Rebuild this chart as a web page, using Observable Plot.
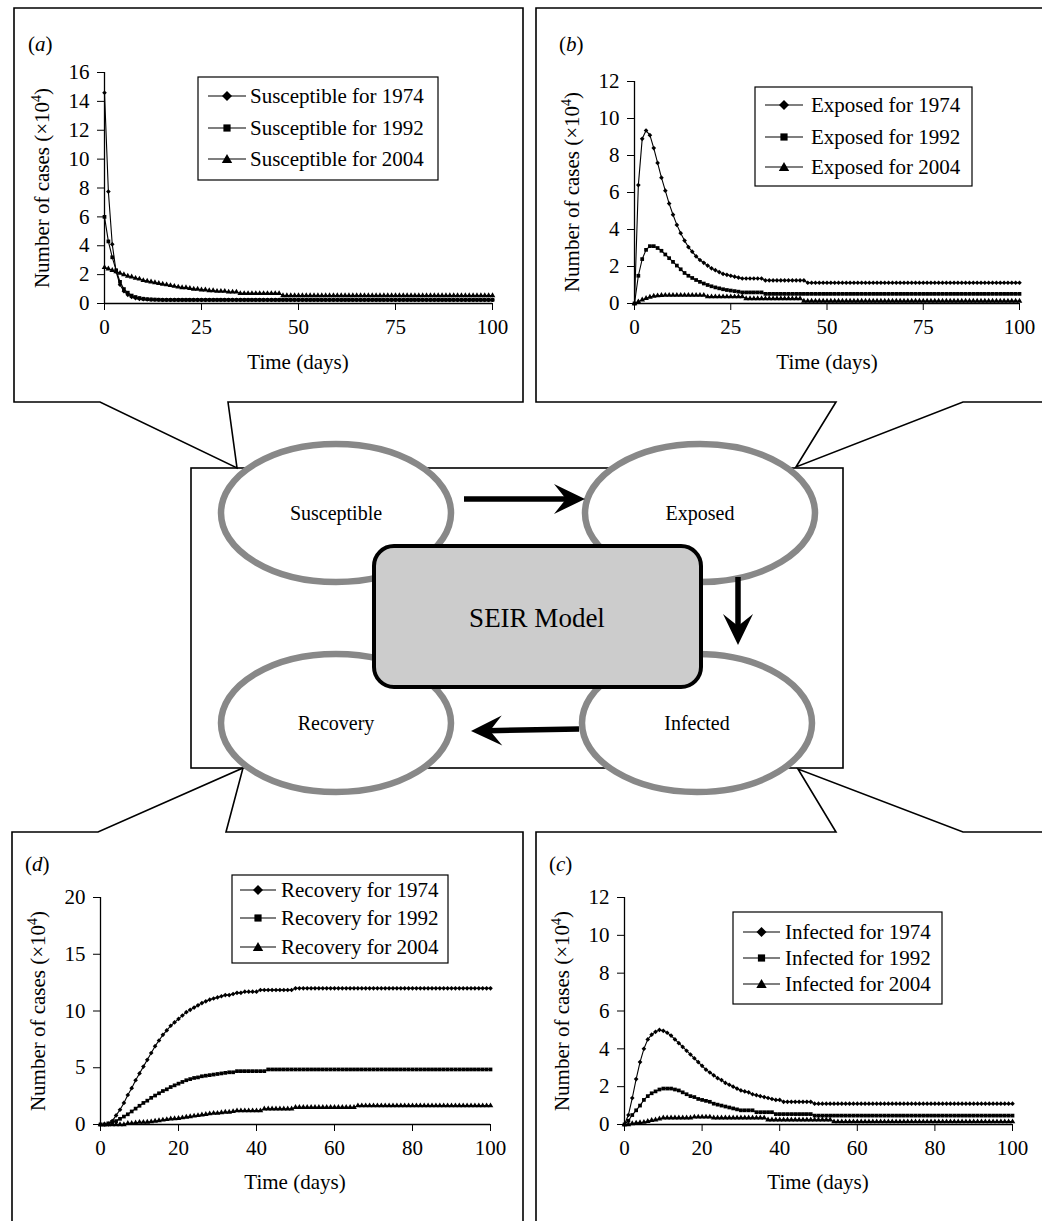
<!DOCTYPE html>
<html><head><meta charset="utf-8">
<script src="https://cdn.jsdelivr.net/npm/d3@7"></script>
<script src="https://cdn.jsdelivr.net/npm/@observablehq/plot@0.6"></script>
<style>
body{margin:0;background:#fff;}
#root{position:relative;width:1042px;height:1221px;overflow:hidden;background:#fff;font-family:"Liberation Serif","Times New Roman",serif;}
#root svg{position:absolute;overflow:visible;}
</style></head><body><div id="root"></div>
<script>
// ---------- data ----------
const days = d3.range(0, 101);
const years = ["1974", "1992", "2004"];
const xTicksA = [0, 25, 50, 75, 100];
const xTicksC = [0, 20, 40, 60, 80, 100];
const yTicksA = [0, 2, 4, 6, 8, 10, 12, 14, 16];
const yTicksB = [0, 2, 4, 6, 8, 10, 12];
const yTicksD = [0, 5, 10, 15, 20];
const yTicksC = [0, 2, 4, 6, 8, 10, 12];

const susceptible1974 = [14.6,7.75,4.1,2.2,1.3,0.85,0.6,0.45,0.37,0.32,
 0.3,0.28,0.27,0.26,0.26,0.25,0.25,0.25,0.25,0.25,
 0.25,0.25,0.25,0.25,0.25,0.25,0.25,0.25,0.25,0.25,
 0.25,0.25,0.25,0.25,0.25,0.25,0.25,0.25,0.25,0.25,
 0.25,0.25,0.25,0.25,0.25,0.25,0.25,0.25,0.25,0.25,
 0.25,0.25,0.25,0.25,0.25,0.25,0.25,0.25,0.25,0.25,
 0.25,0.25,0.25,0.25,0.25,0.25,0.25,0.25,0.25,0.25,
 0.25,0.25,0.25,0.25,0.25,0.25,0.25,0.25,0.25,0.25,
 0.25,0.25,0.25,0.25,0.25,0.25,0.25,0.25,0.25,0.25,
 0.25,0.25,0.25,0.25,0.25,0.25,0.25,0.25,0.25,0.25,0.25];
const susceptible1992 = [6.0,4.3,3.2,2.3,1.5,1.0,0.75,0.55,0.45,0.38,
 0.33,0.3,0.28,0.27,0.26,0.25,0.25,0.25,0.25,0.25,
 0.25,0.25,0.25,0.25,0.25,0.25,0.25,0.25,0.25,0.25,
 0.25,0.25,0.25,0.25,0.25,0.25,0.25,0.25,0.25,0.25,
 0.25,0.25,0.25,0.25,0.25,0.25,0.25,0.25,0.25,0.25,
 0.25,0.25,0.25,0.25,0.25,0.25,0.25,0.25,0.25,0.25,
 0.25,0.25,0.25,0.25,0.25,0.25,0.25,0.25,0.25,0.25,
 0.25,0.25,0.25,0.25,0.25,0.25,0.25,0.25,0.25,0.25,
 0.25,0.25,0.25,0.25,0.25,0.25,0.25,0.25,0.25,0.25,
 0.25,0.25,0.25,0.25,0.25,0.25,0.25,0.25,0.25,0.25,0.25];
const susceptible2004 = [2.5,2.4,2.3,2.2,2.1,2.0,1.9,1.85,1.75,1.7,
 1.6,1.55,1.5,1.45,1.4,1.35,1.3,1.25,1.2,1.15,
 1.1,1.1,1.05,1.0,1.0,0.95,0.95,0.9,0.9,0.85,
 0.85,0.85,0.8,0.8,0.8,0.7,0.7,0.7,0.7,0.7,
 0.7,0.7,0.7,0.7,0.7,0.7,0.55,0.55,0.55,0.55,
 0.55,0.55,0.55,0.55,0.55,0.55,0.55,0.55,0.55,0.55,
 0.55,0.55,0.55,0.55,0.55,0.55,0.55,0.55,0.55,0.55,
 0.55,0.55,0.55,0.55,0.55,0.55,0.55,0.55,0.55,0.55,
 0.55,0.55,0.55,0.55,0.55,0.55,0.55,0.55,0.55,0.55,
 0.55,0.55,0.55,0.55,0.55,0.55,0.55,0.55,0.55,0.55,0.55];

const exposed1974 = [0,6.4,8.9,9.35,9.1,8.4,7.6,6.8,6.1,5.4,
 4.8,4.25,3.8,3.4,3.05,2.8,2.55,2.35,2.2,2.05,
 1.9,1.8,1.7,1.6,1.55,1.5,1.45,1.4,1.35,1.35,
 1.35,1.35,1.35,1.35,1.25,1.25,1.25,1.25,1.25,1.25,
 1.25,1.25,1.25,1.25,1.25,1.12,1.12,1.12,1.12,1.12,
 1.12,1.12,1.12,1.12,1.12,1.12,1.12,1.12,1.12,1.12,
 1.12,1.12,1.12,1.12,1.12,1.12,1.12,1.12,1.12,1.12,
 1.12,1.12,1.12,1.12,1.12,1.12,1.12,1.12,1.12,1.12,
 1.12,1.12,1.12,1.12,1.12,1.12,1.12,1.12,1.12,1.12,
 1.12,1.12,1.12,1.12,1.12,1.12,1.12,1.12,1.12,1.12,1.12];
const exposed1992 = [0,1.5,2.4,2.9,3.1,3.1,3.0,2.85,2.65,2.45,
 2.25,2.05,1.85,1.65,1.5,1.38,1.27,1.17,1.08,1.0,
 0.93,0.87,0.82,0.77,0.73,0.7,0.67,0.64,0.6,0.6,
 0.6,0.6,0.6,0.6,0.52,0.52,0.52,0.52,0.52,0.52,
 0.52,0.52,0.52,0.52,0.52,0.52,0.52,0.52,0.52,0.52,
 0.52,0.52,0.52,0.52,0.52,0.52,0.52,0.52,0.52,0.52,
 0.52,0.52,0.52,0.52,0.52,0.52,0.52,0.52,0.52,0.52,
 0.52,0.52,0.52,0.52,0.52,0.52,0.52,0.52,0.52,0.52,
 0.52,0.52,0.52,0.52,0.52,0.52,0.52,0.52,0.52,0.52,
 0.52,0.52,0.52,0.52,0.52,0.52,0.52,0.52,0.52,0.52,0.52];
const exposed2004 = [0,0.1,0.2,0.28,0.35,0.4,0.42,0.44,0.45,0.45,
 0.45,0.45,0.45,0.45,0.45,0.45,0.45,0.45,0.45,0.37,
 0.37,0.37,0.37,0.37,0.37,0.37,0.37,0.37,0.37,0.27,
 0.27,0.27,0.27,0.27,0.27,0.27,0.27,0.27,0.27,0.27,
 0.27,0.27,0.27,0.27,0.13,0.13,0.13,0.13,0.13,0.13,
 0.13,0.13,0.13,0.13,0.13,0.13,0.13,0.13,0.13,0.13,
 0.13,0.13,0.13,0.13,0.13,0.13,0.13,0.13,0.13,0.13,
 0.13,0.13,0.13,0.13,0.13,0.13,0.13,0.13,0.13,0.13,
 0.13,0.13,0.13,0.13,0.13,0.13,0.13,0.13,0.13,0.13,
 0.13,0.13,0.13,0.13,0.13,0.13,0.13,0.13,0.13,0.13,0.13];

const recovery1974 = [0,0,0,0.3,0.8,1.3,1.9,2.6,3.2,3.9,
 4.5,5.1,5.7,6.3,6.9,7.4,7.9,8.3,8.7,9.0,
 9.3,9.6,9.9,10.1,10.3,10.5,10.7,10.85,11.0,11.1,
 11.2,11.3,11.4,11.4,11.5,11.6,11.6,11.7,11.7,11.7,
 11.7,11.85,11.85,11.85,11.85,11.85,11.85,11.85,11.85,11.85,
 12,12,12,12,12,12,12,12,12,12,
 12,12,12,12,12,12,12,12,12,12,
 12,12,12,12,12,12,12,12,12,12,
 12,12,12,12,12,12,12,12,12,12,
 12,12,12,12,12,12,12,12,12,12,12];
const recovery1992 = [0,0,0.1,0.2,0.3,0.5,0.7,0.9,1.15,1.4,
 1.65,1.9,2.1,2.35,2.55,2.75,2.95,3.1,3.3,3.45,
 3.6,3.75,3.9,4.0,4.1,4.15,4.25,4.3,4.35,4.4,
 4.45,4.5,4.55,4.6,4.6,4.7,4.7,4.7,4.7,4.7,
 4.7,4.7,4.7,4.85,4.85,4.85,4.85,4.85,4.85,4.85,
 4.85,4.85,4.85,4.85,4.85,4.85,4.85,4.85,4.85,4.85,
 4.85,4.85,4.85,4.85,4.85,4.85,4.85,4.85,4.85,4.85,
 4.85,4.85,4.85,4.85,4.85,4.85,4.85,4.85,4.85,4.85,
 4.85,4.85,4.85,4.85,4.85,4.85,4.85,4.85,4.85,4.85,
 4.85,4.85,4.85,4.85,4.85,4.85,4.85,4.85,4.85,4.85,4.85];
const recovery2004 = [0,0,0,0,0,0,0,0.1,0.1,0.15,
 0.2,0.2,0.22,0.25,0.3,0.35,0.4,0.45,0.5,0.52,
 0.55,0.6,0.65,0.7,0.75,0.8,0.85,0.9,0.95,1.0,
 1.0,1.05,1.1,1.1,1.15,1.22,1.22,1.22,1.22,1.22,
 1.22,1.22,1.38,1.38,1.38,1.38,1.38,1.38,1.38,1.38,
 1.52,1.52,1.52,1.52,1.52,1.52,1.52,1.52,1.52,1.52,
 1.52,1.52,1.52,1.52,1.52,1.52,1.66,1.66,1.66,1.66,
 1.66,1.66,1.66,1.66,1.66,1.66,1.66,1.66,1.66,1.66,
 1.66,1.66,1.66,1.66,1.66,1.66,1.66,1.66,1.66,1.66,
 1.66,1.66,1.66,1.66,1.66,1.66,1.66,1.66,1.66,1.66,1.66];

const infected1974 = [0,0.5,1.4,2.4,3.3,4.0,4.5,4.75,4.9,5.0,
 4.95,4.85,4.7,4.5,4.3,4.1,3.9,3.7,3.5,3.3,
 3.1,2.9,2.75,2.6,2.45,2.35,2.2,2.1,2.0,1.9,
 1.8,1.75,1.7,1.6,1.55,1.5,1.45,1.4,1.35,1.3,
 1.3,1.2,1.2,1.2,1.2,1.2,1.2,1.2,1.2,1.1,
 1.1,1.1,1.1,1.1,1.1,1.1,1.1,1.1,1.1,1.1,
 1.1,1.1,1.1,1.1,1.1,1.1,1.1,1.1,1.1,1.1,
 1.1,1.1,1.1,1.1,1.1,1.1,1.1,1.1,1.1,1.1,
 1.1,1.1,1.1,1.1,1.1,1.1,1.1,1.1,1.1,1.1,
 1.1,1.1,1.1,1.1,1.1,1.1,1.1,1.1,1.1,1.1,1.1];
const infected1992 = [0,0.2,0.5,0.75,1.0,1.3,1.5,1.65,1.75,1.85,
 1.9,1.9,1.9,1.85,1.8,1.7,1.6,1.5,1.45,1.35,
 1.3,1.25,1.2,1.1,1.05,1.0,0.95,0.9,0.85,0.8,
 0.75,0.75,0.75,0.75,0.65,0.65,0.65,0.65,0.65,0.55,
 0.55,0.55,0.55,0.55,0.55,0.55,0.55,0.55,0.55,0.47,
 0.47,0.47,0.47,0.47,0.47,0.47,0.47,0.47,0.47,0.47,
 0.47,0.47,0.47,0.47,0.47,0.47,0.47,0.47,0.47,0.47,
 0.47,0.47,0.47,0.47,0.47,0.47,0.47,0.47,0.47,0.47,
 0.47,0.47,0.47,0.47,0.47,0.47,0.47,0.47,0.47,0.47,
 0.47,0.47,0.47,0.47,0.47,0.47,0.47,0.47,0.47,0.47,0.47];
const infected2004 = [0,0,0.05,0.08,0.1,0.12,0.17,0.22,0.25,0.3,
 0.35,0.35,0.35,0.35,0.35,0.35,0.35,0.35,0.4,0.4,
 0.4,0.4,0.4,0.35,0.35,0.35,0.35,0.35,0.35,0.35,
 0.35,0.35,0.35,0.35,0.35,0.35,0.35,0.25,0.25,0.25,
 0.25,0.25,0.25,0.25,0.25,0.25,0.25,0.25,0.25,0.25,
 0.25,0.25,0.25,0.25,0.15,0.15,0.15,0.15,0.15,0.15,
 0.15,0.15,0.15,0.15,0.15,0.15,0.15,0.15,0.15,0.15,
 0.15,0.15,0.15,0.15,0.15,0.15,0.15,0.15,0.15,0.15,
 0.15,0.15,0.15,0.15,0.15,0.15,0.15,0.15,0.15,0.15,
 0.15,0.15,0.15,0.15,0.15,0.15,0.15,0.15,0.15,0.15,0.15];

const compartments = ["Susceptible", "Exposed", "Infected", "Recovery"];
const modelTitle = "SEIR Model";
const xTitle = "Time (days)";

// ---------- layout ----------
const FONT = '"Liberation Serif","Times New Roman",serif';
const root = d3.select("#root");
const symbols = ["diamond2", "square", "triangle"];

// background diagram
const bg = root.append("svg").attr("width", 1042).attr("height", 1221).style("left", "0px").style("top", "0px");
const boxStyle = s => s.attr("fill", "none").attr("stroke", "#000").attr("stroke-width", 1.6).attr("stroke-linejoin", "miter");
boxStyle(bg.append("path").attr("d", "M14,8 H523 V402 H228 L237,468 L100,402 H14 Z"));
boxStyle(bg.append("path").attr("d", "M536,8 H1060 V402 H963 L796,467 L836,402 H536 Z"));
boxStyle(bg.append("path").attr("d", "M12,1240 V832 H98 L243,768 L226,832 H523 V1240"));
boxStyle(bg.append("path").attr("d", "M536,1240 V832 H836 L798,769 L963,832 H1060"));
// frame
bg.append("rect").attr("x", 191).attr("y", 468).attr("width", 652).attr("height", 300)
  .attr("fill", "none").attr("stroke", "#000").attr("stroke-width", 1.6);
// ellipses
const ell = [
  {name: compartments[0], cx: 336, cy: 513},
  {name: compartments[1], cx: 700, cy: 513},
  {name: compartments[2], cx: 697, cy: 723},
  {name: compartments[3], cx: 336, cy: 723}
];
for (const e of ell) {
  bg.append("ellipse").attr("cx", e.cx).attr("cy", e.cy).attr("rx", 115).attr("ry", 69)
    .attr("fill", "#fff").attr("stroke", "#888").attr("stroke-width", 6.5);
  bg.append("text").attr("x", e.cx).attr("y", e.cy).attr("dy", "0.35em").attr("text-anchor", "middle")
    .attr("font-family", FONT).attr("font-size", 20).text(e.name);
}
// central rounded rect
bg.append("rect").attr("x", 374).attr("y", 546).attr("width", 327).attr("height", 141).attr("rx", 20)
  .attr("fill", "#ccc").attr("stroke", "#000").attr("stroke-width", 4);
bg.append("text").attr("x", 537).attr("y", 618).attr("dy", "0.35em").attr("text-anchor", "middle")
  .attr("font-family", FONT).attr("font-size", 27).text(modelTitle);
// arrows
function arrow(x1, y1, x2, y2) {
  const ang = Math.atan2(y2 - y1, x2 - x1);
  const L = 31, W = 15, N = 19;
  const ux = Math.cos(ang), uy = Math.sin(ang), px = -uy, py = ux;
  const bx = x2 - ux * L, by = y2 - uy * L;
  const nx = x2 - ux * N, ny = y2 - uy * N;
  bg.append("line").attr("x1", x1).attr("y1", y1).attr("x2", nx + ux * 2).attr("y2", ny + uy * 2)
    .attr("stroke", "#000").attr("stroke-width", 5.5);
  bg.append("path").attr("d", `M${x2},${y2} L${bx + px * W},${by + py * W} L${nx},${ny} L${bx - px * W},${by - py * W} Z`)
    .attr("fill", "#000");
}
arrow(464, 499, 585, 499);
arrow(738, 577, 738, 645);
arrow(579, 729, 471, 731);

// ---------- charts ----------
function panel(cfg) {
  const {series, yMax, yTicks, xTicks, x0, x1, y0, y1} = cfg;
  const L = x0 - 90, T = y1 - 20, R = x1 + 35, B = y0 + 50;
  const marks = [
    Plot.ruleX([0], {stroke: "#000", strokeWidth: 1.3}),
    Plot.ruleY([0], {stroke: "#000", strokeWidth: 1.3})
  ];
  series.forEach((vals, i) => {
    const data = vals.map((v, j) => ({day: days[j], value: v}));
    marks.push(Plot.line(data, {x: "day", y: "value", stroke: "#000", strokeWidth: 1.1}));
    marks.push(Plot.dot(data, {x: "day", y: "value", symbol: symbols[i], fill: "#000", stroke: "none", r: 2.1}));
  });
  const svg = Plot.plot({
    width: R - L, height: B - T,
    marginLeft: x0 - L, marginRight: R - x1, marginTop: y1 - T, marginBottom: B - y0,
    x: {domain: [0, 100], ticks: xTicks, tickSize: 7, tickPadding: 9, label: null, tickFormat: d => String(d)},
    y: {domain: [0, yMax], ticks: yTicks, tickSize: 7, tickPadding: 8, label: null, tickFormat: d => String(d)},
    style: {fontFamily: FONT, fontSize: "21px", background: "transparent", color: "#000", overflow: "visible"},
    marks
  });
  d3.select(svg).style("left", L + "px").style("top", T + "px");
  root.node().appendChild(svg);
}

panel({series: [susceptible1974, susceptible1992, susceptible2004], yMax: 16, yTicks: yTicksA, xTicks: xTicksA, x0: 104, x1: 492, y0: 303, y1: 72});
panel({series: [exposed1974, exposed1992, exposed2004], yMax: 12, yTicks: yTicksB, xTicks: xTicksA, x0: 634, x1: 1019, y0: 303, y1: 81});
panel({series: [recovery1974, recovery1992, recovery2004], yMax: 20, yTicks: yTicksD, xTicks: xTicksC, x0: 100, x1: 490, y0: 1124, y1: 897});
panel({series: [infected1974, infected1992, infected2004], yMax: 12, yTicks: yTicksC, xTicks: xTicksC, x0: 624, x1: 1012, y0: 1124, y1: 897});

// ---------- overlay: labels, titles, legends ----------
const ov = root.append("svg").attr("width", 1042).attr("height", 1221).style("left", "0px").style("top", "0px")
  .attr("font-family", FONT).style("pointer-events", "none");

function panelLabel(x, y, letter) {
  ov.append("text").attr("x", x).attr("y", y).attr("font-size", 21)
    .html(`(<tspan font-style="italic">${letter}</tspan>)`);
}
panelLabel(28, 51, "a");
panelLabel(559, 51, "b");
panelLabel(25, 871, "d");
panelLabel(549, 871, "c");

function yTitle(x, y) {
  ov.append("text").attr("transform", `translate(${x},${y}) rotate(-90)`).attr("text-anchor", "middle")
    .attr("font-size", 21)
    .html('Number of cases (×10<tspan dy="-8" font-size="14">4</tspan><tspan dy="8">)</tspan>');
}
yTitle(49, 188); yTitle(579, 192); yTitle(45, 1011); yTitle(569, 1011);
function xT(x, y) {
  ov.append("text").attr("x", x).attr("y", y).attr("text-anchor", "middle").attr("font-size", 21).text(xTitle);
}
xT(298, 369); xT(827, 369); xT(295, 1189); xT(818, 1189);

function marker(x, y, i) {
  let d;
  if (i === 0) d = `M${x},${y - 5} L${x + 5},${y} L${x},${y + 5} L${x - 5},${y} Z`;
  else if (i === 1) d = `M${x - 3.6},${y - 3.6} H${x + 3.6} V${y + 3.6} H${x - 3.6} Z`;
  else d = `M${x},${y - 5} L${x + 5.2},${y + 4} L${x - 5.2},${y + 4} Z`;
  ov.append("path").attr("d", d).attr("fill", "#000");
}
function legend(b, name, ys, lx0, lx1, tx) {
  ov.append("rect").attr("x", b[0]).attr("y", b[1]).attr("width", b[2] - b[0]).attr("height", b[3] - b[1])
    .attr("fill", "#fff").attr("stroke", "#000").attr("stroke-width", 1.2);
  ys.forEach((y, i) => {
    ov.append("line").attr("x1", lx0).attr("x2", lx1).attr("y1", y).attr("y2", y).attr("stroke", "#000").attr("stroke-width", 1.1);
    marker((lx0 + lx1) / 2, y, i);
    ov.append("text").attr("x", tx).attr("y", y).attr("dy", "0.33em").attr("font-size", 21)
      .text(`${name} for ${years[i]}`);
  });
}
legend([198, 77, 438, 180], "Susceptible", [96, 128, 159], 208, 246, 250);
legend([755, 87, 972, 186], "Exposed", [105, 137, 167], 765, 803, 811);
legend([232, 875, 448, 963], "Recovery", [890, 918, 947], 240, 276, 281);
legend([733, 912, 942, 1004], "Infected", [932, 958, 984], 743, 780, 785);
</script></body></html>
